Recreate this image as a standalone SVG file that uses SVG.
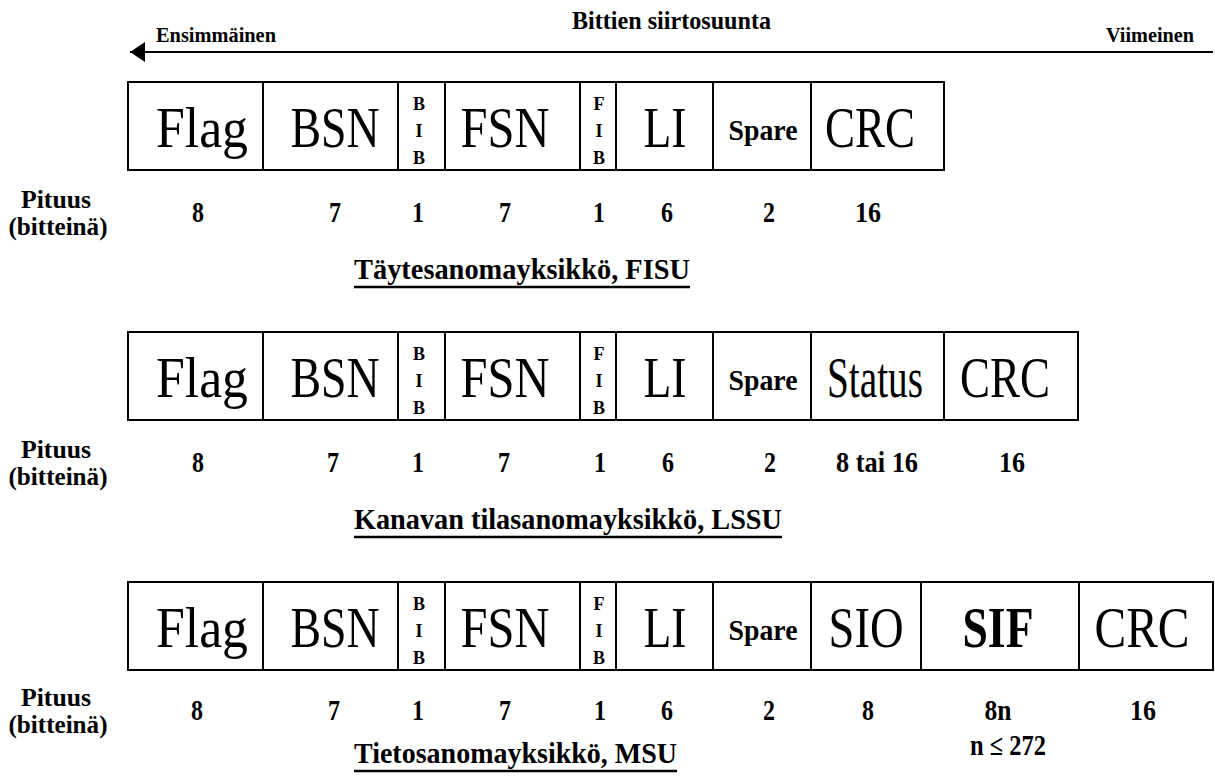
<svg xmlns="http://www.w3.org/2000/svg" width="1215" height="776" viewBox="0 0 1215 776">
  <style>
    .cell { fill: #fff; stroke: #000; stroke-width: 2; }
    .big { font-family: "Liberation Serif", "Times New Roman", serif; font-size: 58px; fill: #000; text-anchor: middle; }
    .bigb { font-family: "Liberation Serif", "Times New Roman", serif; font-size: 58px; font-weight: bold; fill: #000; text-anchor: middle; }
    .spare { font-family: "Liberation Serif", "Times New Roman", serif; font-size: 30px; font-weight: bold; fill: #000; text-anchor: middle; }
    .bit { font-family: "Liberation Serif", "Times New Roman", serif; font-size: 18px; font-weight: bold; fill: #000; text-anchor: middle; }
    .num { font-family: "Liberation Serif", "Times New Roman", serif; font-size: 29px; font-weight: bold; fill: #000; text-anchor: middle; }
    .lbl { font-family: "Liberation Serif", "Times New Roman", serif; font-size: 25px; font-weight: bold; fill: #000; text-anchor: middle; }
    .ttl { font-family: "Liberation Serif", "Times New Roman", serif; font-size: 30px; font-weight: bold; fill: #000; }
    .hdr { font-family: "Liberation Serif", "Times New Roman", serif; font-weight: bold; fill: #000; }
    .uline { stroke: #000; stroke-width: 2.5; }
  </style>
  <defs>
    <marker id="arrowHead" markerWidth="16" markerHeight="20" refX="15" refY="10" orient="auto" markerUnits="userSpaceOnUse">
      <path d="M15,10 L0,0 L0,20 Z" fill="#000"/>
    </marker>
  </defs>

  <!-- header: transmission direction -->
  <g id="header">
    <text class="hdr" x="572" y="29" font-size="26" textLength="199" lengthAdjust="spacingAndGlyphs">Bittien siirtosuunta</text>
    <text class="hdr" x="156" y="42" font-size="21" textLength="120" lengthAdjust="spacingAndGlyphs">Ensimmäinen</text>
    <text class="hdr" x="1106" y="42" font-size="21" textLength="88" lengthAdjust="spacingAndGlyphs">Viimeinen</text>
  </g>
  <g id="connectors">
    <line x1="1213" y1="52" x2="130" y2="52" stroke="#000" stroke-width="2.2" marker-end="url(#arrowHead)"/>
  </g>

  <!-- FISU -->
  <g id="fisu" transform="translate(0,82)">
    <g id="fisu-flag"><rect class="cell" x="128" y="0" width="135" height="88"/><text class="big" x="202" y="65" textLength="92" lengthAdjust="spacingAndGlyphs">Flag</text></g>
    <g id="fisu-bsn"><rect class="cell" x="263" y="0" width="135" height="88"/><text class="big" x="335" y="65" textLength="89" lengthAdjust="spacingAndGlyphs">BSN</text></g>
    <g id="fisu-bib"><rect class="cell" x="398" y="0" width="47" height="88"/><text class="bit" x="419" y="28">B</text><text class="bit" x="419" y="55">I</text><text class="bit" x="419" y="82">B</text></g>
    <g id="fisu-fsn"><rect class="cell" x="445" y="0" width="135" height="88"/><text class="big" x="505" y="65" textLength="89" lengthAdjust="spacingAndGlyphs">FSN</text></g>
    <g id="fisu-fib"><rect class="cell" x="580" y="0" width="36" height="88"/><text class="bit" x="599" y="28">F</text><text class="bit" x="599" y="55">I</text><text class="bit" x="599" y="82">B</text></g>
    <g id="fisu-li"><rect class="cell" x="616" y="0" width="97" height="88"/><text class="big" x="665" y="65" textLength="43" lengthAdjust="spacingAndGlyphs">LI</text></g>
    <g id="fisu-spare"><rect class="cell" x="713" y="0" width="98" height="88"/><text class="spare" x="763" y="58" textLength="69" lengthAdjust="spacingAndGlyphs">Spare</text></g>
    <g id="fisu-crc"><rect class="cell" x="811" y="0" width="133" height="88"/><text class="big" x="870" y="65" textLength="90" lengthAdjust="spacingAndGlyphs">CRC</text></g>
    <g id="fisu-lengths">
      <text class="lbl" x="56" y="126" textLength="70" lengthAdjust="spacingAndGlyphs">Pituus</text>
      <text class="lbl" x="58" y="153" textLength="99" lengthAdjust="spacingAndGlyphs">(bitteinä)</text>
      <text class="num" x="198" y="140" textLength="12" lengthAdjust="spacingAndGlyphs">8</text>
      <text class="num" x="335" y="140" textLength="12" lengthAdjust="spacingAndGlyphs">7</text>
      <text class="num" x="418" y="140" textLength="12" lengthAdjust="spacingAndGlyphs">1</text>
      <text class="num" x="505" y="140" textLength="12" lengthAdjust="spacingAndGlyphs">7</text>
      <text class="num" x="599" y="140" textLength="12" lengthAdjust="spacingAndGlyphs">1</text>
      <text class="num" x="667" y="140" textLength="12" lengthAdjust="spacingAndGlyphs">6</text>
      <text class="num" x="769" y="140" textLength="12" lengthAdjust="spacingAndGlyphs">2</text>
      <text class="num" x="868" y="140" textLength="26" lengthAdjust="spacingAndGlyphs">16</text>
    </g>
    <g id="fisu-title">
      <text class="ttl" x="354" y="197" textLength="336" lengthAdjust="spacingAndGlyphs">Täytesanomayksikkö, FISU</text>
      <line class="uline" x1="354" y1="205" x2="690" y2="205"/>
    </g>
  </g>

  <!-- LSSU -->
  <g id="lssu" transform="translate(0,332)">
    <g id="lssu-flag"><rect class="cell" x="128" y="0" width="135" height="88"/><text class="big" x="202" y="65" textLength="92" lengthAdjust="spacingAndGlyphs">Flag</text></g>
    <g id="lssu-bsn"><rect class="cell" x="263" y="0" width="135" height="88"/><text class="big" x="335" y="65" textLength="89" lengthAdjust="spacingAndGlyphs">BSN</text></g>
    <g id="lssu-bib"><rect class="cell" x="398" y="0" width="47" height="88"/><text class="bit" x="419" y="28">B</text><text class="bit" x="419" y="55">I</text><text class="bit" x="419" y="82">B</text></g>
    <g id="lssu-fsn"><rect class="cell" x="445" y="0" width="135" height="88"/><text class="big" x="505" y="65" textLength="89" lengthAdjust="spacingAndGlyphs">FSN</text></g>
    <g id="lssu-fib"><rect class="cell" x="580" y="0" width="36" height="88"/><text class="bit" x="599" y="28">F</text><text class="bit" x="599" y="55">I</text><text class="bit" x="599" y="82">B</text></g>
    <g id="lssu-li"><rect class="cell" x="616" y="0" width="97" height="88"/><text class="big" x="665" y="65" textLength="43" lengthAdjust="spacingAndGlyphs">LI</text></g>
    <g id="lssu-spare"><rect class="cell" x="713" y="0" width="98" height="88"/><text class="spare" x="763" y="58" textLength="69" lengthAdjust="spacingAndGlyphs">Spare</text></g>
    <g id="lssu-status"><rect class="cell" x="811" y="0" width="133" height="88"/><text class="big" x="875" y="65" font-size="52" textLength="96" lengthAdjust="spacingAndGlyphs">Status</text></g>
    <g id="lssu-crc"><rect class="cell" x="944" y="0" width="134" height="88"/><text class="big" x="1005" y="65" textLength="90" lengthAdjust="spacingAndGlyphs">CRC</text></g>
    <g id="lssu-lengths">
      <text class="lbl" x="56" y="126" textLength="70" lengthAdjust="spacingAndGlyphs">Pituus</text>
      <text class="lbl" x="58" y="153" textLength="99" lengthAdjust="spacingAndGlyphs">(bitteinä)</text>
      <text class="num" x="198" y="140" textLength="12" lengthAdjust="spacingAndGlyphs">8</text>
      <text class="num" x="333" y="140" textLength="12" lengthAdjust="spacingAndGlyphs">7</text>
      <text class="num" x="418" y="140" textLength="12" lengthAdjust="spacingAndGlyphs">1</text>
      <text class="num" x="504" y="140" textLength="12" lengthAdjust="spacingAndGlyphs">7</text>
      <text class="num" x="600" y="140" textLength="12" lengthAdjust="spacingAndGlyphs">1</text>
      <text class="num" x="668" y="140" textLength="12" lengthAdjust="spacingAndGlyphs">6</text>
      <text class="num" x="770" y="140" textLength="12" lengthAdjust="spacingAndGlyphs">2</text>
      <text class="num" x="877" y="140" textLength="82" lengthAdjust="spacingAndGlyphs">8 tai 16</text>
      <text class="num" x="1012" y="140" textLength="26" lengthAdjust="spacingAndGlyphs">16</text>
    </g>
    <g id="lssu-title">
      <text class="ttl" x="354" y="197" textLength="428" lengthAdjust="spacingAndGlyphs">Kanavan tilasanomayksikkö, LSSU</text>
      <line class="uline" x1="354" y1="205" x2="782" y2="205"/>
    </g>
  </g>

  <!-- MSU -->
  <g id="msu" transform="translate(0,582)">
    <g id="msu-flag"><rect class="cell" x="128" y="0" width="135" height="88"/><text class="big" x="202" y="65" textLength="92" lengthAdjust="spacingAndGlyphs">Flag</text></g>
    <g id="msu-bsn"><rect class="cell" x="263" y="0" width="135" height="88"/><text class="big" x="335" y="65" textLength="89" lengthAdjust="spacingAndGlyphs">BSN</text></g>
    <g id="msu-bib"><rect class="cell" x="398" y="0" width="47" height="88"/><text class="bit" x="419" y="28">B</text><text class="bit" x="419" y="55">I</text><text class="bit" x="419" y="82">B</text></g>
    <g id="msu-fsn"><rect class="cell" x="445" y="0" width="135" height="88"/><text class="big" x="505" y="65" textLength="89" lengthAdjust="spacingAndGlyphs">FSN</text></g>
    <g id="msu-fib"><rect class="cell" x="580" y="0" width="36" height="88"/><text class="bit" x="599" y="28">F</text><text class="bit" x="599" y="55">I</text><text class="bit" x="599" y="82">B</text></g>
    <g id="msu-li"><rect class="cell" x="616" y="0" width="97" height="88"/><text class="big" x="665" y="65" textLength="43" lengthAdjust="spacingAndGlyphs">LI</text></g>
    <g id="msu-spare"><rect class="cell" x="713" y="0" width="98" height="88"/><text class="spare" x="763" y="58" textLength="69" lengthAdjust="spacingAndGlyphs">Spare</text></g>
    <g id="msu-sio"><rect class="cell" x="811" y="0" width="110" height="88"/><text class="big" x="866" y="65" textLength="75" lengthAdjust="spacingAndGlyphs">SIO</text></g>
    <g id="msu-sif"><rect class="cell" x="921" y="0" width="158" height="88"/><text class="bigb" x="998" y="65" textLength="71" lengthAdjust="spacingAndGlyphs">SIF</text></g>
    <g id="msu-crc"><rect class="cell" x="1079" y="0" width="134" height="88"/><text class="big" x="1142" y="65" textLength="95" lengthAdjust="spacingAndGlyphs">CRC</text></g>
    <g id="msu-lengths">
      <text class="lbl" x="56" y="124" textLength="70" lengthAdjust="spacingAndGlyphs">Pituus</text>
      <text class="lbl" x="58" y="151" textLength="99" lengthAdjust="spacingAndGlyphs">(bitteinä)</text>
      <text class="num" x="197" y="138" textLength="12" lengthAdjust="spacingAndGlyphs">8</text>
      <text class="num" x="334" y="138" textLength="12" lengthAdjust="spacingAndGlyphs">7</text>
      <text class="num" x="418" y="138" textLength="12" lengthAdjust="spacingAndGlyphs">1</text>
      <text class="num" x="505" y="138" textLength="12" lengthAdjust="spacingAndGlyphs">7</text>
      <text class="num" x="600" y="138" textLength="12" lengthAdjust="spacingAndGlyphs">1</text>
      <text class="num" x="667" y="138" textLength="12" lengthAdjust="spacingAndGlyphs">6</text>
      <text class="num" x="769" y="138" textLength="12" lengthAdjust="spacingAndGlyphs">2</text>
      <text class="num" x="868" y="138" textLength="12" lengthAdjust="spacingAndGlyphs">8</text>
      <text class="num" x="998" y="138" textLength="27" lengthAdjust="spacingAndGlyphs">8n</text>
      <text class="num" x="1008" y="173" font-size="26" textLength="76" lengthAdjust="spacingAndGlyphs">n ≤ 272</text>
      <text class="num" x="1143" y="138" textLength="26" lengthAdjust="spacingAndGlyphs">16</text>
    </g>
    <g id="msu-title">
      <text class="ttl" x="354" y="181" textLength="323" lengthAdjust="spacingAndGlyphs">Tietosanomayksikkö, MSU</text>
      <line class="uline" x1="354" y1="189" x2="677" y2="189"/>
    </g>
  </g>
</svg>
